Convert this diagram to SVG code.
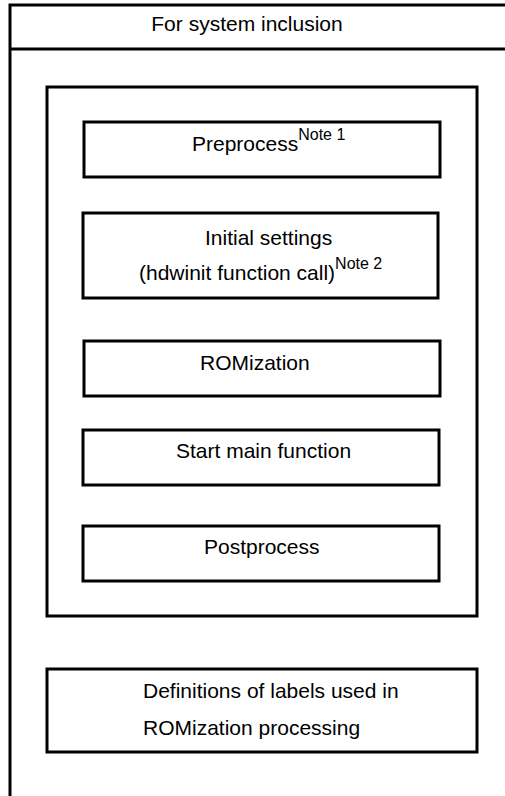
<svg xmlns="http://www.w3.org/2000/svg" width="505" height="796" viewBox="0 0 505 796">
<style>
.ln{stroke:#000;stroke-width:3;fill:none}
.bx{stroke:#000;stroke-width:3;fill:#fff}
.t{font-family:"Liberation Sans",Arial,sans-serif;font-size:21px;fill:#000}
.s{font-size:16px}
</style>
<rect width="505" height="796" fill="#fff"/>
<g id="frame">
<path class="ln" d="M10 796V5H505M10 49H505"/>
<text class="t" x="247" y="31" text-anchor="middle">For system inclusion</text>
</g>
<g id="startup">
<rect class="bx" x="47" y="87" width="430" height="529"/>
</g>
<g id="preprocess">
<rect class="bx" x="84" y="122" width="356" height="55"/>
<text class="t" x="192" y="151">Preprocess<tspan class="s" dy="-11">Note 1</tspan></text>
</g>
<g id="initial">
<rect class="bx" x="83" y="213" width="355" height="85"/>
<text class="t" x="205" y="245">Initial settings</text>
<text class="t" x="139" y="280">(hdwinit function call)<tspan class="s" dy="-11">Note 2</tspan></text>
</g>
<g id="romization">
<rect class="bx" x="84" y="341" width="356" height="55"/>
<text class="t" x="200" y="370">ROMization</text>
</g>
<g id="startmain">
<rect class="bx" x="83" y="430" width="356" height="55"/>
<text class="t" x="176" y="458">Start main function</text>
</g>
<g id="postprocess">
<rect class="bx" x="83" y="526" width="356" height="55"/>
<text class="t" x="204" y="554">Postprocess</text>
</g>
<g id="definitions">
<rect class="bx" x="47" y="669" width="430" height="83"/>
<text class="t" x="143" y="698">Definitions of labels used in</text>
<text class="t" x="143" y="735">ROMization processing</text>
</g>
<g id="connectors"></g>
</svg>
